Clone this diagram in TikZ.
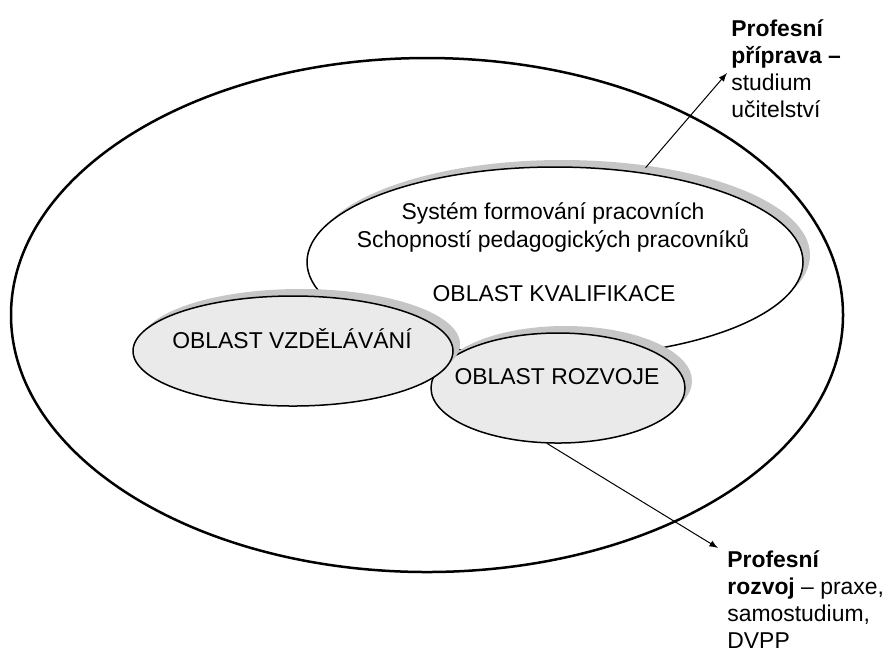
\documentclass[tikz,border=0pt]{standalone}
\usepackage{fontspec}
\setmainfont{Liberation Sans}
\usepackage{tikz}
\usetikzlibrary{shapes.geometric,shadows}
\definecolor{oblast_fill}{HTML}{EAEAEA}
\definecolor{oblast_shadow}{HTML}{C6C6C6}
\tikzset{
  oblast/.style={ellipse, draw, line width=0.75pt, inner sep=0pt,
    drop shadow={shadow xshift=3.5pt, shadow yshift=3.5pt, fill=oblast_shadow, opacity=1}},
  popis/.style={inner sep=0pt, font=\fontsize{11.45}{14}\selectfont},
  poznamka/.style={inner sep=0pt, align=left, anchor=north west, font=\fontsize{11.45}{13.5}\selectfont},
  sipka/.style={-latex, line width=0.5pt}
}

\begin{document}
\begin{tikzpicture}[x=0.5pt, y=-0.5pt]
    \useasboundingbox (0,0) rectangle (886,655);

    \node[ellipse, draw, line width=1.25pt, inner sep=0pt, minimum width=416pt, minimum height=257pt] (system) at (427,315) {};

    \node[oblast, fill=white, minimum width=248pt, minimum height=95pt] (kval) at (555,262) {};
    \node[popis, align=center] (kvalPopis) at (553,227) {Systém formování pracovních\\Schopností pedagogických pracovníků};
    \node[popis] (kvalNazev) at (554,294) {OBLAST KVALIFIKACE};

    \node[oblast, fill=oblast_fill, minimum width=127pt, minimum height=55pt] (rozvoj) at (558,388) {};
    \node[popis] (rozvojNazev) at (557,377) {OBLAST ROZVOJE};

    \node[oblast, fill=oblast_fill, minimum width=160pt, minimum height=55pt] (vzdel) at (293,351) {};
    \node[popis] (vzdelNazev) at (292,339) {OBLAST VZDĚLÁVÁNÍ};

    % popisky vpravo
    \node[poznamka] (priprava) at (731,19) {\textbf{Profesní}\\\textbf{příprava –}\\studium\\učitelství};
    \node[poznamka] (rozvojPraxe) at (727,550) {\textbf{Profesní}\\\textbf{rozvoj} – praxe,\\samostudium,\\DVPP};

    \coordinate (pripravaHrot) at (727,73);
    \coordinate (rozvojHrot) at (718,548);
    \draw[sipka, shorten <=3pt] (kval.46) -- (pripravaHrot);
    \draw[sipka] (rozvoj.259) -- (rozvojHrot);
\end{tikzpicture}
\end{document}
